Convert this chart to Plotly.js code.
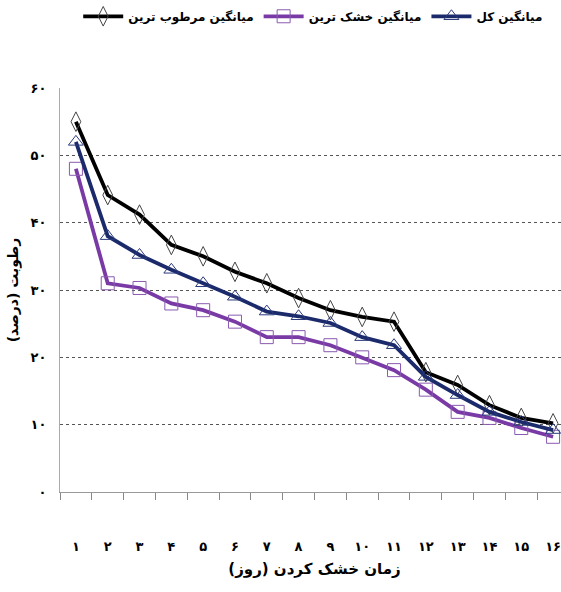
<!DOCTYPE html>
<html>
<head>
<meta charset="utf-8">
<script src="https://cdn.plot.ly/plotly-3.0.1.min.js"></script>
<style>
html,body{margin:0;padding:0;overflow:hidden;background:#fff;}
#chart{width:580px;height:592px;}
</style>
</head>
<body>
<div id="chart"></div>
<script>
// Drying day
const days = [1,2,3,4,5,6,7,8,9,10,11,12,13,14,15,16];
const dayLabels = ['۱','۲','۳','۴','۵','۶','۷','۸','۹','۱۰','۱۱','۱۲','۱۳','۱۴','۱۵','۱۶'];
// Moisture (%) series
const wettest = [55, 44.1, 41.2, 36.7, 35, 32.7, 31, 28.8, 27, 26, 25.3, 17.8, 15.9, 12.9, 11, 10.2];
const driest  = [48, 31, 30.3, 28, 27, 25.3, 23, 23, 21.8, 20, 18.1, 15.2, 11.9, 11, 9.5, 8.2];
const overall = [52, 38, 35.2, 33, 31, 29, 26.8, 26.1, 25.1, 23, 21.8, 17.1, 14.4, 11.9, 10.4, 9.2];
const yTickVals = [0,10,20,30,40,50,60];
const yTickText = ['۰','۱۰','۲۰','۳۰','۴۰','۵۰','۶۰'];
const names = {
  wettest: '\u200Fمیانگین مرطوب ترین',
  driest: '\u200Fمیانگین خشک ترین',
  overall: '\u200Fمیانگین کل'
};

const FONT = 'DejaVu Sans, sans-serif';

const traces = [
  {x: days, y: wettest, name: names.wettest, mode: 'lines+markers', type: 'scatter',
   line: {color: '#000000', width: 3.8},
   marker: {symbol: 'diamond-tall-open', size: 14, color: '#444444', line: {width: 1}}},
  {x: days, y: driest, name: names.driest, mode: 'lines+markers', type: 'scatter',
   line: {color: '#7a3aa6', width: 3.8},
   marker: {symbol: 'square-open', size: 13, color: '#8a5ab0', line: {width: 1}}},
  {x: days, y: overall, name: names.overall, mode: 'lines+markers', type: 'scatter',
   line: {color: '#1b2a6b', width: 3.8},
   marker: {symbol: 'triangle-up-open', size: 13, color: '#2b3a7b', line: {width: 1}}}
];

const layout = {
  width: 580, height: 592,
  margin: {l: 60, r: 11, t: 88, b: 100, autoexpand: false},
  paper_bgcolor: '#ffffff', plot_bgcolor: '#ffffff',
  font: {family: FONT, color: '#000', size: 12},
  showlegend: true,
  legend: {orientation: 'h', xref: 'container', yref: 'container',
           x: 0.54, xanchor: 'center', y: 0.997, yanchor: 'top',
           font: {family: FONT, size: 12, color: '#000', weight: 'bold'}, itemwidth: 40},
  xaxis: {
    range: [0.5, 16.5], tickmode: 'array', tickvals: days, ticktext: dayLabels,
    ticks: '', showgrid: false, zeroline: false,
    showline: true, linecolor: '#999999', linewidth: 1,
    ticklabelstandoff: 42,
    tickfont: {family: FONT, size: 13, color: '#000', weight: 'bold'},
    minor: {tickmode: 'linear', tick0: 0.5, dtick: 1, ticks: 'outside', ticklen: 7, tickcolor: '#888888', tickwidth: 1, showgrid: false},
    title: {text: '\u200Fزمان خشک کردن (روز)\u200F', standoff: 10, font: {family: FONT, size: 15, color: '#000', weight: 'bold'}}
  },
  yaxis: {
    range: [0, 60], tickmode: 'array', tickvals: yTickVals, ticktext: yTickText,
    ticks: '', showgrid: true, gridcolor: '#555555', gridwidth: 1, griddash: 'dot',
    zeroline: false, showline: true, linecolor: '#aaaaaa', linewidth: 1,
    ticklabelstandoff: 10,
    tickfont: {family: FONT, size: 13, color: '#000', weight: 'bold'},
    title: {text: '\u200Fرطوبت (درصد)\u200F', standoff: 8, font: {family: FONT, size: 14, color: '#000', weight: 'bold'}}
  }
};

Plotly.newPlot('chart', traces, layout, {displayModeBar: false, staticPlot: true});
</script>
</body>
</html>
